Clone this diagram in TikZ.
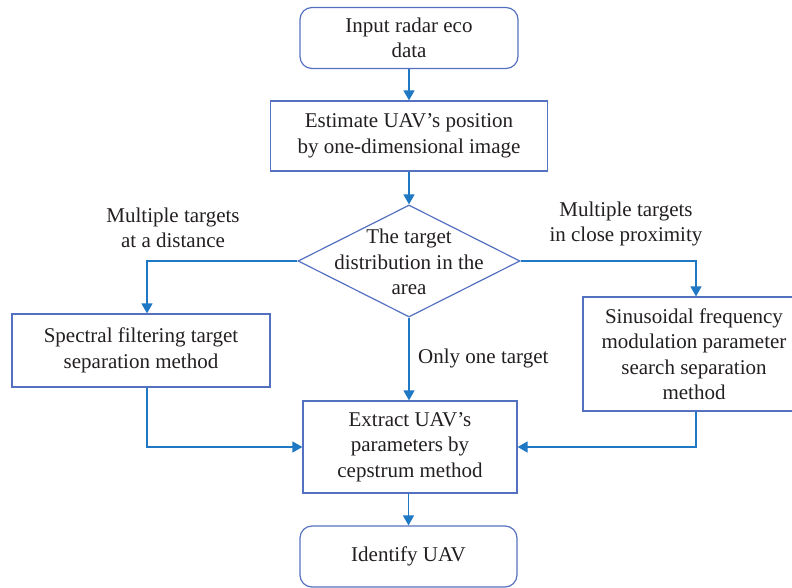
\documentclass[tikz,border=0pt]{standalone}
\usepackage{fontspec}
\setmainfont{Liberation Serif}
\usetikzlibrary{arrows.meta,shapes.geometric,calc}
\definecolor{boxc}{HTML}{5470C0}
\definecolor{arrc}{HTML}{1F78C4}
\definecolor{txtc}{HTML}{231F20}
\tikzset{
  base/.style={draw=boxc,line width=1.2pt,text=txtc,align=center,inner sep=0pt,
    font=\fontsize{21}{25.5}\selectfont},
  rbox/.style={base,rectangle,rounded corners=12pt},
  sbox/.style={base,rectangle},
  dia/.style={base,diamond},
  arr/.style={draw=arrc,line width=1.3pt,-{Triangle[width=11pt,length=10pt]}},
  lbl/.style={text=txtc,align=center,inner sep=0pt,font=\fontsize{21}{25.5}\selectfont}
}
\begin{document}
\begin{tikzpicture}[x=1pt,y=-1pt]
\useasboundingbox (0,0) rectangle (792,588);
\node[rbox,minimum width=218pt,minimum height=61pt] (input) at (409,38) {Input radar eco\\data};
\node[sbox,minimum width=277pt,minimum height=70pt] (est) at (409,136) {Estimate UAV’s position\\by one-dimensional image};
\node[base,draw=none,minimum width=0pt] (dtext) at (409,262) {The target\\distribution in the\\area};
\node[dia,draw=boxc,shape aspect=2,minimum width=222pt,minimum height=112pt] (dia) at (409,261) {};
\node[sbox,minimum width=258pt,minimum height=73pt] (left) at (141,350.5) {Spectral filtering target\\separation method};
\node[sbox,minimum width=222pt,minimum height=114pt] (right) at (694,354) {Sinusoidal frequency\\modulation parameter\\search separation\\method};
\node[sbox,minimum width=214pt,minimum height=92pt] (ext) at (410,447) {Extract UAV’s\\parameters by\\cepstrum method};
\node[rbox,minimum width=217pt,minimum height=61pt] (ident) at (408.5,556.5) {Identify UAV};
\node[lbl] (l1) at (173,228) {Multiple targets\\at a distance};
\node[lbl] (l2) at (626,224) {Multiple targets\\in close proximity};
\node[lbl,anchor=west] (l3) at (418,358) {Only one target};
\coordinate (lc) at (147,0);
\coordinate (rc) at (696,0);
\draw[arr] (input.south -| est.north) -- (est.north);
\draw[arr] (est.south) -- (dia.north);
\draw[arr] (dia.west) -| (left.north -| lc);
\draw[arr] (dia.east) -| (right.north -| rc);
\draw[arr] (dia.south) -- (ext.north -| dia.south);
\draw[arr] (left.south -| lc) |- (ext.west);
\draw[arr] (right.south -| rc) |- (ext.east);
\draw[arr] (ext.south -| ident.north) -- (ident.north);
\end{tikzpicture}
\end{document}
